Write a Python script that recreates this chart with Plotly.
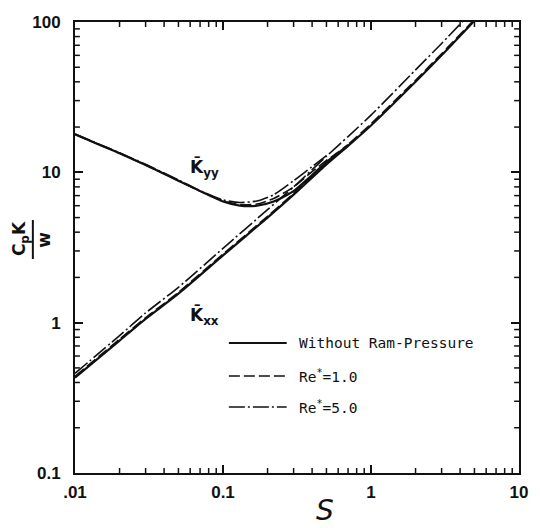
import math
import plotly.graph_objects as go

# ---------------- data ----------------
S_xx = [0.01, 0.02, 0.03, 0.05, 0.1, 0.2, 0.3, 0.5, 0.7, 1, 2, 3, 5]
Kxx_without = [0.43, 0.76, 1.06, 1.56, 2.8, 5.0, 7.1, 11.3, 15.0, 20.5, 40, 60, 102]
Kxx_re1 = [0.44, 0.775, 1.08, 1.59, 2.86, 5.1, 7.25, 11.55, 15.3, 21.0, 41, 61.5, 104]
Kxx_re5 = [0.46, 0.82, 1.16, 1.72, 3.12, 5.65, 8.0, 12.8, 17.3, 24.0, 48, 72, 122]

S_yy = [0.01, 0.015, 0.02, 0.03, 0.05, 0.07, 0.1, 0.13, 0.17, 0.22, 0.3, 0.4, 0.5, 0.6, 0.7]
Kyy_without = [17.9, 15.1, 13.4, 11.2, 8.8, 7.5, 6.4, 6.0, 6.0, 6.4, 7.5, 9.6, 11.7, 13.4, 15.0]
Kyy_re1 = [17.9, 15.1, 13.4, 11.2, 8.8, 7.5, 6.45, 6.1, 6.15, 6.7, 8.0, 10.1, 12.0, 13.6, 15.3]
S_yy5 = [0.01, 0.015, 0.02, 0.03, 0.05, 0.07, 0.1, 0.13, 0.17, 0.22, 0.3, 0.4, 0.5]
Kyy_re5 = [18.0, 15.2, 13.5, 11.3, 8.9, 7.55, 6.55, 6.3, 6.45, 7.1, 8.8, 10.9, 12.9]

x_tickvals = [0.01, 0.1, 1, 10]
x_ticktext = [".01", "0.1", "1", "10"]
y_tickvals = [0.1, 1, 10, 100]
y_ticktext = ["0.1", "1", "10", "100"]

legend_labels = ["Without Ram-Pressure", "Re<sup>*</sup>=1.0", "Re<sup>*</sup>=5.0"]

# ---------------- styling ----------------
W, H = 540, 528
L, R, T, B = 75, 12, 22, 55
PW, PH = W - L - R, H - T - B
XR = [-2, 1]
YR = [-1, 2]

def px(xp):
    return (xp - L) / PW

def py(yp):
    return (H - B - yp) / PH

DASH = "11px,4px"
DASHDOT = "16px,3px,2px,3px"
BLACK = "#111111"

styles = [
    dict(color=BLACK, width=2.2, dash="solid"),
    dict(color=BLACK, width=1.6, dash=DASH),
    dict(color=BLACK, width=1.6, dash=DASHDOT),
]

fig = go.Figure()
for xs, ys, st in [
    (S_xx, Kxx_without, styles[0]),
    (S_xx, Kxx_re1, styles[1]),
    (S_xx, Kxx_re5, styles[2]),
    (S_yy, Kyy_without, styles[0]),
    (S_yy, Kyy_re1, styles[1]),
    (S_yy5, Kyy_re5, styles[2]),
]:
    fig.add_trace(go.Scatter(x=xs, y=ys, mode="lines", line=dict(**st, shape="spline", smoothing=0.6),
                             showlegend=False, hoverinfo="skip"))

tickfont = dict(family="Liberation Sans", size=17, color=BLACK, weight="bold")

fig.update_xaxes(type="log", range=XR, tickmode="array", tickvals=x_tickvals, ticktext=x_ticktext,
                 ticks="inside", ticklen=8, tickwidth=1.8, tickcolor=BLACK,
                 showline=True, linecolor=BLACK, linewidth=2, mirror="ticks",
                 showgrid=False, zeroline=False, tickfont=tickfont, ticklabelstandoff=3)
fig.update_yaxes(type="log", range=YR, tickmode="array", tickvals=y_tickvals, ticktext=y_ticktext,
                 ticks="inside", ticklen=8, tickwidth=1.8, tickcolor=BLACK,
                 showline=True, linecolor=BLACK, linewidth=2, mirror="ticks",
                 showgrid=False, zeroline=False, tickfont=tickfont, ticklabelstandoff=9)

annotations = []
shapes = []

# minor ticks (axis decoration) drawn as short inside marks on all four sides
tl_x = 5 / PH
tl_y = 5 / PW
for k in range(XR[0], XR[1]):
    for m in range(2, 10):
        fx = (math.log10(m) + k - XR[0]) / (XR[1] - XR[0])
        for y0, y1 in [(0, tl_x), (1, 1 - tl_x)]:
            shapes.append(dict(type="line", xref="paper", yref="paper", x0=fx, x1=fx, y0=y0, y1=y1,
                               line=dict(color=BLACK, width=1.5), layer="above"))
for k in range(YR[0], YR[1]):
    for m in range(2, 10):
        fy = (math.log10(m) + k - YR[0]) / (YR[1] - YR[0])
        for x0, x1 in [(0, tl_y), (1, 1 - tl_y)]:
            shapes.append(dict(type="line", xref="paper", yref="paper", x0=x0, x1=x1, y0=fy, y1=fy,
                               line=dict(color=BLACK, width=1.5), layer="above"))

def ann(xp, yp, text, font, **kw):
    d = dict(x=px(xp), y=py(yp), xref="paper", yref="paper", showarrow=False,
             xanchor="center", yanchor="middle", text=text, font=font)
    d.update(kw)
    annotations.append(d)

# curve labels
lab_font = dict(family="DejaVu Sans", size=17, color=BLACK, weight="bold")
ann(207, 168, "K\u0304<sub>yy</sub>", lab_font)
ann(207, 316, "K\u0304<sub>xx</sub>", lab_font)

# legend (manual)
leg_font = dict(family="DejaVu Sans Mono", size=14.5, color=BLACK)
for i, (lab, st) in enumerate(zip(legend_labels, styles)):
    yy = [343, 376, 407][i]
    shapes.append(dict(type="line", xref="paper", yref="paper", x0=px(232), x1=px(291),
                       y0=py(yy), y1=py(yy), line=dict(color=BLACK, width=st["width"] * 0.8,
                                                       dash=st["dash"])))
    ann(302, yy, lab, leg_font, xanchor="left")

# axis titles
ann(330, 510, "<i>S</i>", dict(family="DejaVu Sans", size=28, color=BLACK))
yt_font = dict(family="DejaVu Sans", size=17, color=BLACK, weight="bold")
ann(19, 239, "C<sub>p</sub>K", yt_font, textangle=-90)
ann(43, 240, "w", yt_font, textangle=-90)
shapes.append(dict(type="line", xref="paper", yref="paper", x0=px(32), x1=px(32),
                   y0=py(220), y1=py(259), line=dict(color=BLACK, width=2)))

fig.update_layout(width=W, height=H, margin=dict(l=L, r=R, t=T, b=B),
                  paper_bgcolor="white", plot_bgcolor="white",
                  annotations=annotations, shapes=shapes, showlegend=False)

fig.write_html("out.html")
